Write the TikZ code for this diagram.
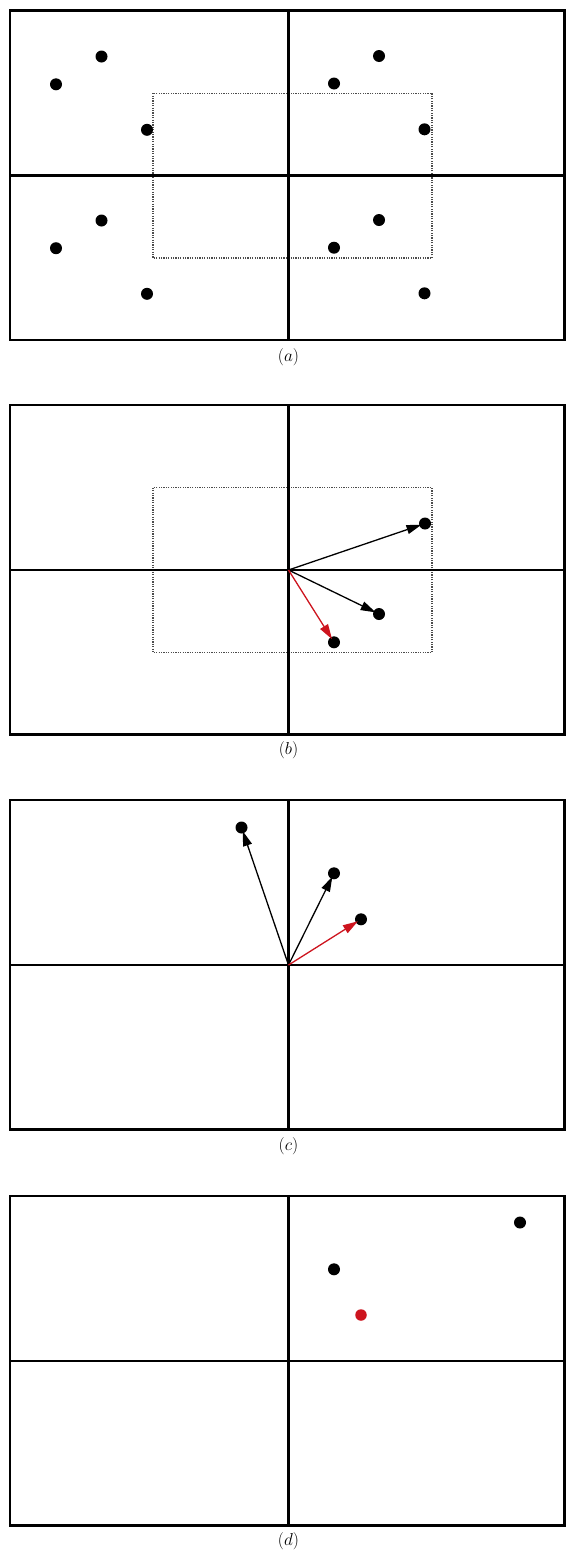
\documentclass[tikz,border=0pt]{standalone}
\usetikzlibrary{arrows.meta}
\definecolor{vred}{RGB}{205,20,30}
\tikzset{
  frameline/.style={line width=2.6pt, black},
  gridline/.style={line width=2.2pt, black},
  zone/.style={gray!60!black, line width=1.4pt, dash pattern=on 1.2pt off 1.2pt},
  pt/.style={circle, fill=black, inner sep=0pt, minimum size=12pt},
  redpt/.style={circle, fill=vred, inner sep=0pt, minimum size=11.5pt},
  vec/.style={line width=1.3pt, black, -{Triangle[length=15pt,width=9pt]}, shorten >=-2.5pt},
  redvec/.style={line width=1.3pt, vred, -{Triangle[length=15pt,width=9pt]}, shorten >=-2.5pt},
  captext/.style={font=\fontsize{16}{18}\selectfont, inner sep=0pt}
}
\begin{document}
\begin{tikzpicture}[x=1pt,y=-1pt]
\useasboundingbox (0,0) rectangle (566,1561);
% ---------- panel a ----------
\begin{scope}[shift={(0,10.5)}]
  \draw[zone] (153,82.7) rectangle (432,247.5);
  \draw[frameline] (10,0) rectangle (564.5,329.5);
  \draw[gridline] (288.5,0) -- (288.5,329.5);
  \draw[gridline] (10,165) -- (564.5,165);
  \node[pt] (a1) at (101.5,46) {};
  \node[pt] (a2) at (56,73.8) {};
  \node[pt] (a3) at (147,119.3) {};
  \node[pt] (a4) at (101.5,210) {};
  \node[pt] (a5) at (56,237.7) {};
  \node[pt] (a6) at (147,283.3) {};
  \node[pt] (a7) at (379,45.5) {};
  \node[pt] (a8) at (334,73) {};
  \node[pt] (a9) at (424.5,118.8) {};
  \node[pt] (a10) at (379,209.5) {};
  \node[pt] (a11) at (334,237.2) {};
  \node[pt] (a12) at (424.5,282.8) {};
  \node[captext] (capa) at (288.5,346.5) {$(a)$};
\end{scope}
% ---------- panel b ----------
\begin{scope}[shift={(0,405)}]
  \draw[zone] (153,82.7) rectangle (432,247.5);
  \draw[frameline] (10,0) rectangle (564.5,329.5);
  \draw[gridline] (288.5,0) -- (288.5,329.5);
  \draw[gridline] (10,165) -- (564.5,165);
  \coordinate (ob) at (288.5,165);
  \node[pt] (b1) at (425,118.5) {};
  \node[pt] (b2) at (379,209) {};
  \node[pt] (b3) at (334,237.3) {};
  \draw[vec] (ob) -- (b1);
  \draw[vec] (ob) -- (b2);
  \draw[redvec] (ob) -- (b3);
  \node[captext] (capb) at (288.5,345.5) {$(b)$};
\end{scope}
% ---------- panel c ----------
\begin{scope}[shift={(0,800)}]
  \draw[frameline] (10,0) rectangle (564.5,329.5);
  \draw[gridline] (288.5,0) -- (288.5,329.5);
  \draw[gridline] (10,165) -- (564.5,165);
  \coordinate (oc) at (288.5,165);
  \node[pt] (c1) at (241.5,27.5) {};
  \node[pt] (c2) at (334,73.3) {};
  \node[pt] (c3) at (361,119.3) {};
  \draw[vec] (oc) -- (c1);
  \draw[vec] (oc) -- (c2);
  \draw[redvec] (oc) -- (c3);
  \node[captext] (capc) at (288.5,346) {$(c)$};
\end{scope}
% ---------- panel d ----------
\begin{scope}[shift={(0,1196)}]
  \draw[frameline] (10,0) rectangle (564.5,329.5);
  \draw[gridline] (288.5,0) -- (288.5,329.5);
  \draw[gridline] (10,165) -- (564.5,165);
  \node[pt] (d1) at (520,26.5) {};
  \node[pt] (d2) at (334,73.3) {};
  \node[redpt] (d3) at (361,119) {};
  \node[captext] (capd) at (288.5,345) {$(d)$};
\end{scope}
\end{tikzpicture}
\end{document}
